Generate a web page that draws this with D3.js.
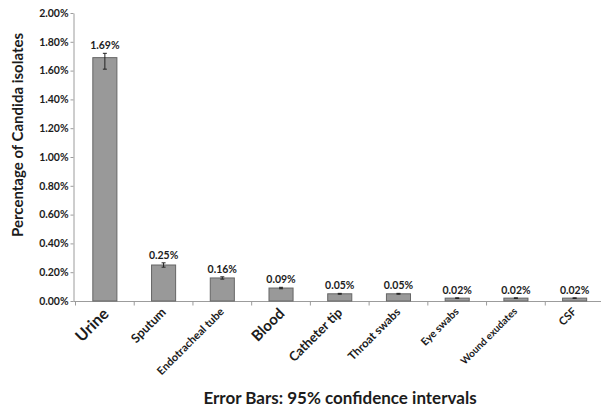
<!DOCTYPE html>
<html>
<head>
<meta charset="utf-8">
<title>Candida isolates by specimen</title>
<script src="https://cdn.jsdelivr.net/npm/d3@7"></script>
<style>
  body { margin: 0; background: #fff; }
  svg text { font-family: Lato, "Open Sans", sans-serif; fill: #1c1c1c; }
</style>
</head>
<body>
<div id="chart"></div>
<script>
// specimen types and percentage of Candida isolates (with 95% CI)
var categories = ['Urine', 'Sputum', 'Endotracheal tube', 'Blood', 'Catheter tip',
                  'Throat swabs', 'Eye swabs', 'Wound exudates', 'CSF'];
var values = [1.69, 0.25, 0.16, 0.09, 0.05, 0.05, 0.02, 0.02, 0.02];
var ciLow  = [1.61, 0.235, 0.152, 0.085, 0.047, 0.047, 0.018, 0.018, 0.018];
var ciHigh = [1.72, 0.265, 0.168, 0.095, 0.053, 0.053, 0.022, 0.022, 0.022];
var yTicks = [0, 0.2, 0.4, 0.6, 0.8, 1.0, 1.2, 1.4, 1.6, 1.8, 2.0];
// the original labels were set in uneven sizes
var labelSizes = [16, 12.5, 11, 15, 13, 11.5, 10.5, 10, 11];

var width = 601, height = 412;
var svg = d3.select('#chart')
  .append('svg')
  .attr('width', width)
  .attr('height', height);

var x = d3.scaleBand()
  .domain(categories)
  .range([75.5, 604])
  .paddingInner(0.59)
  .paddingOuter(0.295);

var y = d3.scaleLinear()
  .domain([0, 2])
  .range([301, 13]);

// y axis
var yAxis = svg.append('g')
  .attr('transform', 'translate(73.5,0)')
  .call(d3.axisLeft(y).tickValues(yTicks).tickSize(3).tickSizeOuter(0)
    .tickFormat(function(d) { return d.toFixed(2) + '%'; }));
yAxis.select('.domain').attr('stroke', '#9c9c9c');
yAxis.selectAll('.tick line').attr('stroke', '#9c9c9c');
yAxis.selectAll('.tick text')
  .attr('x', -5)
  .style('font-size', '10.5px')
  .style('font-weight', 700);

// x axis line with ticks between the bands
var step = x.step();
var bounds = d3.range(categories.length + 1).map(function(i) {
  return x.range()[0] + i * step;
});
svg.append('line')
  .attr('x1', 73.5).attr('x2', 604)
  .attr('y1', y(0) + 0.5).attr('y2', y(0) + 0.5)
  .attr('stroke', '#9c9c9c');
svg.selectAll('.xtick')
  .data(bounds)
  .enter().append('line')
  .attr('class', 'xtick')
  .attr('x1', function(d) { return d; })
  .attr('x2', function(d) { return d; })
  .attr('y1', y(0) + 0.5)
  .attr('y2', y(0) + 4.5)
  .attr('stroke', '#9c9c9c');

// bars
svg.selectAll('.bar')
  .data(values)
  .enter().append('rect')
  .attr('class', 'bar')
  .attr('x', function(d, i) { return x(categories[i]); })
  .attr('width', x.bandwidth())
  .attr('y', function(d) { return y(d); })
  .attr('height', function(d) { return y(0) - y(d); })
  .attr('fill', '#999999')
  .attr('stroke', '#666666')
  .attr('stroke-width', 1);

// error bars
var err = svg.selectAll('.err')
  .data(values)
  .enter().append('g')
  .attr('class', 'err')
  .attr('transform', function(d, i) {
    return 'translate(' + (x(categories[i]) + x.bandwidth() / 2) + ',0)';
  });
err.append('line')
  .attr('y1', function(d, i) { return y(ciLow[i]); })
  .attr('y2', function(d, i) { return y(ciHigh[i]); })
  .attr('stroke', '#222');
err.append('line')
  .attr('x1', -2).attr('x2', 2)
  .attr('y1', function(d, i) { return y(ciLow[i]); })
  .attr('y2', function(d, i) { return y(ciLow[i]); })
  .attr('stroke', '#222');
err.append('line')
  .attr('x1', -2).attr('x2', 2)
  .attr('y1', function(d, i) { return y(ciHigh[i]); })
  .attr('y2', function(d, i) { return y(ciHigh[i]); })
  .attr('stroke', '#222');

// value labels
svg.selectAll('.val')
  .data(values)
  .enter().append('text')
  .attr('class', 'val')
  .attr('x', function(d, i) { return x(categories[i]) + x.bandwidth() / 2; })
  .attr('y', function(d, i) { return y(ciHigh[i]) - 4; })
  .attr('text-anchor', 'middle')
  .style('font-size', '10.5px')
  .style('font-weight', 700)
  .text(function(d) { return d.toFixed(2) + '%'; });

// category labels
svg.selectAll('.cat')
  .data(categories)
  .enter().append('text')
  .attr('class', 'cat')
  .attr('text-anchor', 'end')
  .attr('transform', function(d) {
    return 'translate(' + (x(d) + x.bandwidth() / 2 - 3) + ',' + (y(0) + 6) + ') rotate(-45)';
  })
  .attr('dy', '0.7em')
  .style('font-size', function(d, i) { return labelSizes[i] + 'px'; })
  .style('font-weight', 700)
  .text(function(d) { return d; });

// axis titles
svg.append('text')
  .attr('transform', 'translate(23,135) rotate(-90)')
  .attr('text-anchor', 'middle')
  .style('font-size', '15px')
  .style('font-weight', 700)
  .text('Percentage of Candida isolates');

svg.append('text')
  .attr('x', 340)
  .attr('y', 404)
  .attr('text-anchor', 'middle')
  .style('font-size', '17px')
  .style('font-weight', 700)
  .text('Error Bars: 95% confidence intervals');
</script>
</body>
</html>
